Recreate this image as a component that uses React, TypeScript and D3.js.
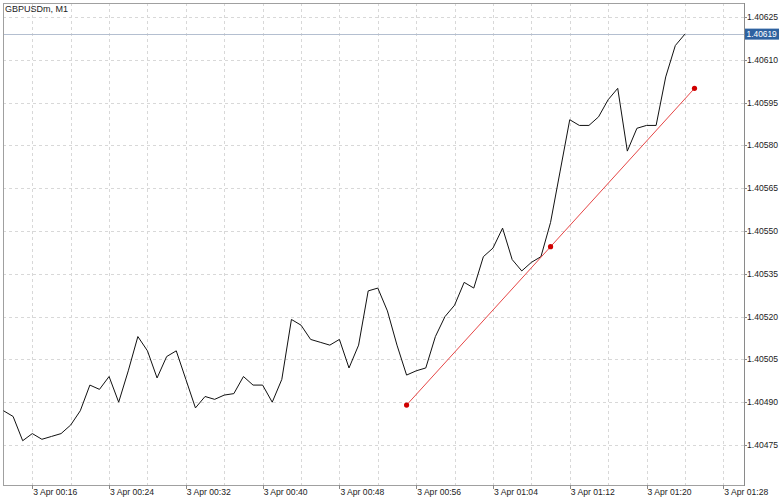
import React from "react";
import * as d3 from "d3";

const TITLE = "GBPUSDm, M1";
// minutes after 00:00 on 3 Apr
const startMinute = 13;
const closes = [
  1.40487, 1.40485, 1.404765, 1.40479, 1.40477, 1.40478, 1.40479, 1.40482,
  1.40487, 1.40496, 1.404945, 1.40499, 1.4049, 1.40501, 1.40513, 1.40508,
  1.404985, 1.40506, 1.40508, 1.40498, 1.40488, 1.40492, 1.40491, 1.404925,
  1.40493, 1.40499, 1.40496, 1.40496, 1.4049, 1.40498, 1.40519, 1.40517,
  1.40512, 1.40511, 1.4051, 1.40512, 1.40502, 1.4051, 1.40529, 1.4053,
  1.40522, 1.4051, 1.404995, 1.40501, 1.40502, 1.40513, 1.4052, 1.40524,
  1.40532, 1.4053, 1.40541, 1.40544, 1.40551, 1.4054, 1.40536, 1.40539,
  1.40541, 1.40553, 1.40571, 1.40589, 1.40587, 1.40587, 1.4059, 1.40596,
  1.406, 1.40578, 1.40586, 1.40587, 1.40587, 1.40604, 1.40615, 1.40619,
];
const trendMinutes = [55, 70, 85];
const trendPrices = [1.40489, 1.405445, 1.406];
const currentPrice = 1.40619;

const priceTicks = [
  1.40475, 1.4049, 1.40505, 1.4052, 1.40535, 1.4055, 1.40565, 1.4058, 1.40595,
  1.4061, 1.40625,
];
const timeTickMinutes = [16, 24, 32, 40, 48, 56, 64, 72, 80, 88];
const timeTickLabels = [
  "3 Apr 00:16", "3 Apr 00:24", "3 Apr 00:32", "3 Apr 00:40", "3 Apr 00:48",
  "3 Apr 00:56", "3 Apr 01:04", "3 Apr 01:12", "3 Apr 01:20", "3 Apr 01:28",
];
const gridMinutes = [16, 20, 24, 28, 32, 36, 40, 44, 48, 52, 56, 60, 64, 68, 72, 76, 80, 84, 88];

export default function App() {
  const W = 779, H = 497;
  const left = 3, right = 744, top = 3, bottom = 485;
  const x = d3.scaleLinear().domain([16, 88]).range([32.3, 723.3]);
  const y = d3.scaleLinear().domain([1.40475, 1.40625]).range([445, 17]);
  const pts = closes.map((c, i) => [startMinute + i, c] as [number, number]);
  const line = d3.line<[number, number]>().x(d => x(d[0])).y(d => y(d[1]));
  const trend = trendMinutes.map((m, i) => [m, trendPrices[i]] as [number, number]);
  const font = "'Liberation Sans', Arial, sans-serif";
  const cy = y(currentPrice);
  return (
    <svg width={W} height={H} style={{ position: "absolute", left: 0, top: 0, background: "#fff" }}>
      <defs>
        <clipPath id="plot">
          <rect x={left} y={top} width={right - left} height={bottom - top} />
        </clipPath>
      </defs>
      {/* grid */}
      <g stroke="#d8d8d8" strokeWidth={1} strokeDasharray="3,3" shapeRendering="crispEdges">
        {gridMinutes.map(m => (
          <line key={"v" + m} x1={Math.round(x(m)) + 0.5} x2={Math.round(x(m)) + 0.5} y1={top} y2={bottom} />
        ))}
        {priceTicks.map(p => (
          <line key={"h" + p} x1={left} x2={right} y1={Math.round(y(p)) + 0.5} y2={Math.round(y(p)) + 0.5} />
        ))}
      </g>
      {/* current price line */}
      <line x1={left} x2={right} y1={Math.round(cy) + 0.5} y2={Math.round(cy) + 0.5} stroke="#b4bfd0" strokeWidth={1} />
      {/* frame */}
      <g shapeRendering="crispEdges" fill="none">
        <line x1={left + 0.5} x2={left + 0.5} y1={top} y2={bottom} stroke="#a0a0a0" />
        <line x1={left} x2={right} y1={top + 0.5} y2={top + 0.5} stroke="#a0a0a0" />
        <line x1={left} x2={right} y1={bottom + 0.5} y2={bottom + 0.5} stroke="#a0a0a0" />
        <line x1={right + 0.5} x2={right + 0.5} y1={top} y2={bottom + 1} stroke="#8a8a8a" />
      </g>
      {/* price series */}
      <g clipPath="url(#plot)">
        <path d={line(pts) || ""} fill="none" stroke="#111" strokeWidth={1} strokeLinejoin="round" />
        <path d={line(trend) || ""} fill="none" stroke="#e64646" strokeWidth={1} />
        {trend.map((d, i) => (
          <circle key={i} cx={x(d[0])} cy={y(d[1])} r={2.6} fill="#d00000" />
        ))}
      </g>
      {/* right axis */}
      <g fontFamily={font} fontSize={8.6} fill="#222">
        {priceTicks.map(p => (
          <g key={p}>
            <line x1={right} x2={right + 3} y1={Math.round(y(p)) + 0.5} y2={Math.round(y(p)) + 0.5} stroke="#8a8a8a" shapeRendering="crispEdges" />
            <text x={right + 3} y={y(p)} dy="0.35em">{p.toFixed(5)}</text>
          </g>
        ))}
      </g>
      {/* current price label */}
      <rect x={right + 1} y={cy - 5.5} width={W - right - 1} height={11} fill="#2f62a0" />
      <text x={right + 2.5} y={cy} dy="0.35em" fontFamily={font} fontSize={8.4} fill="#fff">
        {currentPrice.toFixed(5)}
      </text>
      {/* bottom axis */}
      <g fontFamily={font} fontSize={8.6} fill="#222">
        {timeTickMinutes.map((m, i) => (
          <g key={m}>
            <line x1={Math.round(x(m)) + 0.5} x2={Math.round(x(m)) + 0.5} y1={bottom} y2={bottom + 4} stroke="#8a8a8a" shapeRendering="crispEdges" />
            <text x={x(m) + 1} y={bottom + 9.5}>{timeTickLabels[i]}</text>
          </g>
        ))}
      </g>
      {/* title */}
      <text x={5} y={11.5} fontFamily={font} fontSize={9} fill="#222">{TITLE}</text>
    </svg>
  );
}
